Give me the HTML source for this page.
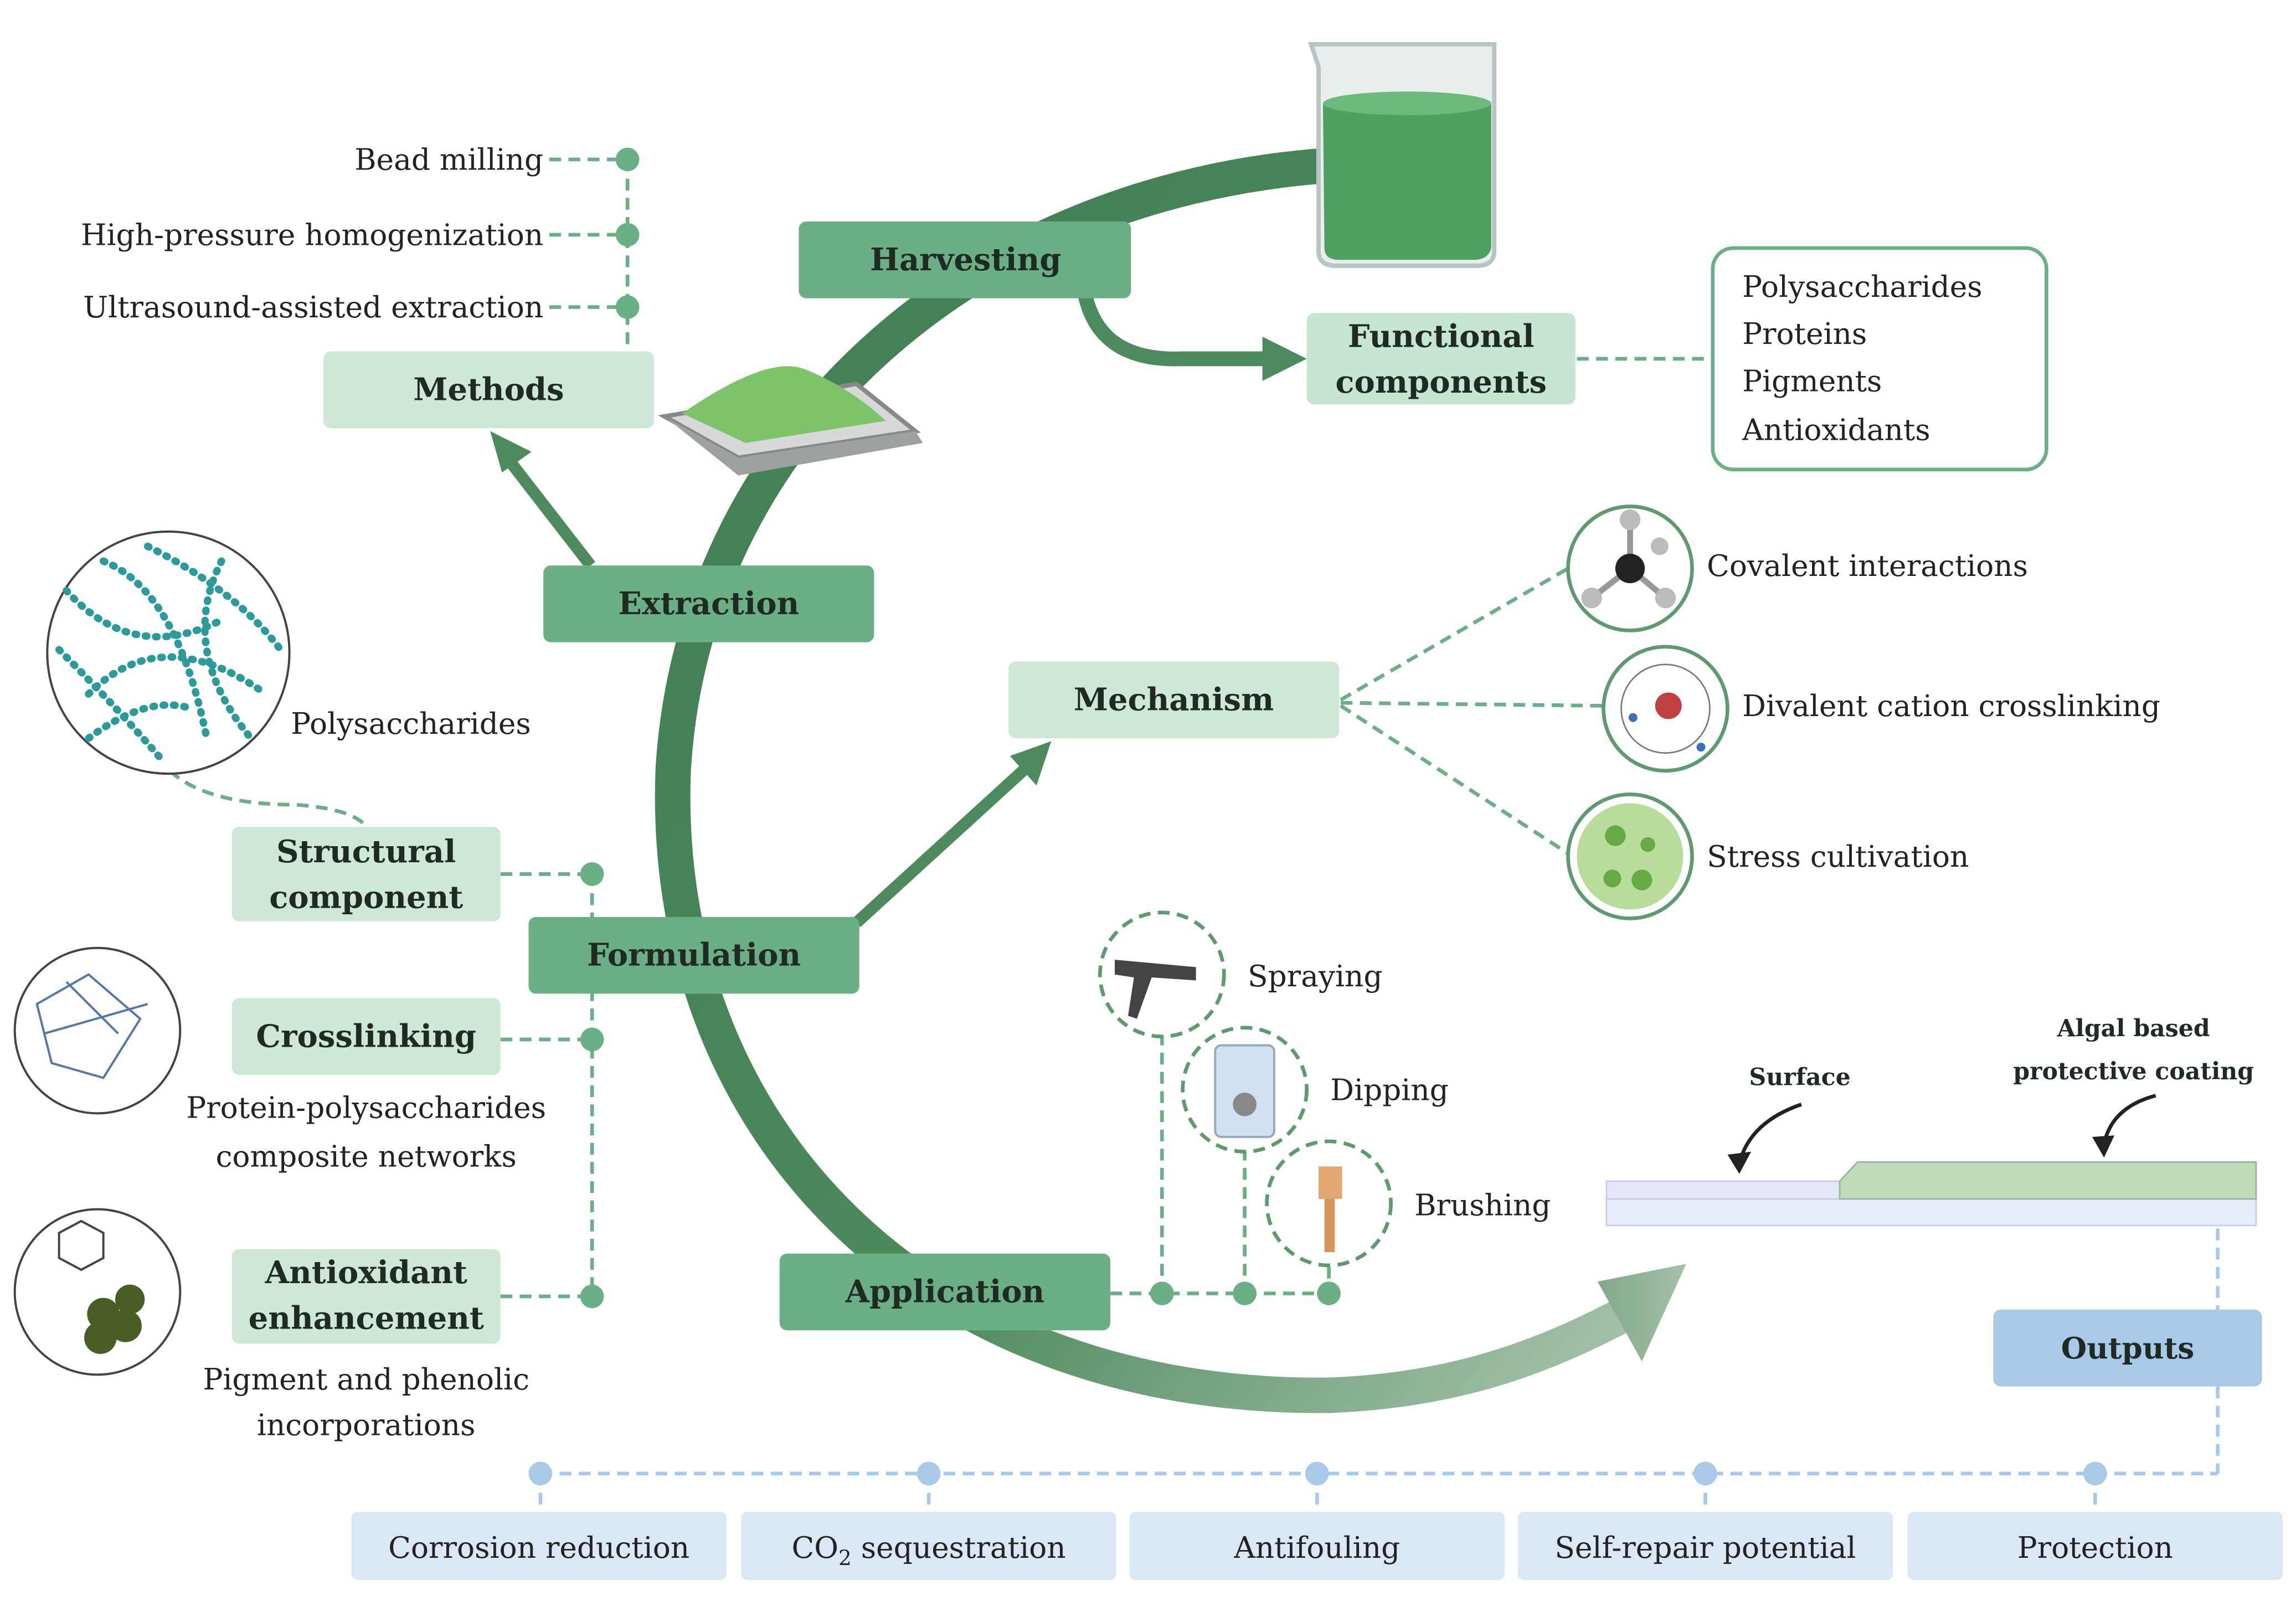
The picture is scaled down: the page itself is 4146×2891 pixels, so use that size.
<!DOCTYPE html>
<html><head><meta charset="utf-8"><style>
html,body{margin:0;padding:0;background:#fff;}
#w{width:1555px;height:1084px;transform:scale(2.6662);transform-origin:0 0;position:relative;}
svg{position:absolute;left:0;top:0;}
text{font-family:"DejaVu Serif","Liberation Serif",serif;}
.b{font-weight:bold;font-size:21px;fill:#1f2a22;}
.t{font-size:20px;fill:#222;}
</style></head><body><div id="w">
<svg width="1555" height="1084" viewBox="0 0 1555 1084">
<defs>
<linearGradient id="g" x1="0" y1="0" x2="1" y2="1">
<stop offset="0" stop-color="#3f7d52"/><stop offset="0.6" stop-color="#4d8a5e"/><stop offset="1" stop-color="#a9c4ad"/>
</linearGradient>
<linearGradient id="g2" x1="0" y1="0" x2="1" y2="0">
<stop offset="0" stop-color="#6f9a78"/><stop offset="1" stop-color="#a7c2ab"/>
</linearGradient>
</defs>
<path d="M 900 112 C 650 130 470 300 456 520 C 446 760 620 948 900 945 C 980 942 1040 922 1100 890" fill="none" stroke="url(#g)" stroke-width="24"/>
<path d="M 1082 868 L 1142 856 L 1112 922 Z" fill="#9fbda5"/>
<path d="M 1082 868 L 1142 856 L 1112 922 Z" fill="url(#g2)" opacity="0.6"/>

<path d="M888 30 L1012 30 L1012 170 Q1012 180 1000 180 L905 180 Q893 180 893 170 L893 45 Z" fill="#e8eeee" stroke="#b9c4c4" stroke-width="3"/>
<path d="M896 70 Q950 60 1010 70 L1010 168 Q1008 176 998 176 L907 176 Q897 176 897 168 Z" fill="#4fa062"/>
<ellipse cx="953" cy="70" rx="57" ry="8" fill="#6cb97d"/>
<path d="M450 282 L500 310 L620 292 L580 260 Z" fill="#d7d9d9" stroke="#888" stroke-width="3"/>
<path d="M462 280 Q520 240 545 250 Q575 262 600 285 L505 300 Z" fill="#7dc36a"/>
<path d="M450 282 L500 322 L625 300 L620 292 L500 310 Z" fill="#9ea1a1"/>

<path d="M735 200 Q745 245 800 243 L860 243" fill="none" stroke="#4d8a5e" stroke-width="10"/>
<path d="M855 228 L885 243 L855 258 Z" fill="#4d8a5e"/>
<line x1="400" y1="383" x2="345" y2="312" stroke="#4d8a5e" stroke-width="8"/>
<path d="M332 292 L360 306 L340 320 Z" fill="#4d8a5e"/>
<line x1="580" y1="625" x2="695" y2="520" stroke="#4d8a5e" stroke-width="8"/>
<path d="M712 502 L702 532 L684 512 Z" fill="#4d8a5e"/>

<g stroke="#6aaf86" stroke-width="2.5" stroke-dasharray="8,5" fill="none">
<line x1="372" y1="108" x2="425" y2="108"/><line x1="372" y1="159" x2="425" y2="159"/><line x1="372" y1="208" x2="425" y2="208"/>
<line x1="425" y1="108" x2="425" y2="238"/>
<line x1="1068" y1="243" x2="1160" y2="243"/>
<line x1="908" y1="474" x2="1062" y2="385"/><line x1="908" y1="476" x2="1086" y2="478"/><line x1="908" y1="478" x2="1062" y2="578"/>
<path d="M115 522 Q140 545 200 545 Q240 548 248 560"/>
<line x1="339" y1="592" x2="401" y2="592"/><line x1="339" y1="704" x2="401" y2="704"/><line x1="339" y1="878" x2="401" y2="878"/>
<line x1="401" y1="592" x2="401" y2="878"/>
<line x1="752" y1="876" x2="900" y2="876"/>
<line x1="787" y1="700" x2="787" y2="876"/><line x1="843" y1="778" x2="843" y2="876"/><line x1="900" y1="858" x2="900" y2="876"/>
</g>
<g stroke="#a9c9e8" stroke-width="2.5" stroke-dasharray="8,5" fill="none">
<line x1="1502" y1="832" x2="1502" y2="887"/><line x1="1502" y1="939" x2="1502" y2="998"/>
<line x1="366" y1="998" x2="1502" y2="998"/>
<line x1="366" y1="998" x2="366" y2="1024"/><line x1="629" y1="998" x2="629" y2="1024"/><line x1="892" y1="998" x2="892" y2="1024"/><line x1="1155" y1="998" x2="1155" y2="1024"/><line x1="1419" y1="998" x2="1419" y2="1024"/>
</g>
<g fill="#6aaf86">
<circle cx="425" cy="108" r="8"/><circle cx="425" cy="159" r="8"/><circle cx="425" cy="208" r="8"/>
<circle cx="401" cy="592" r="8"/><circle cx="401" cy="704" r="8"/><circle cx="401" cy="878" r="8"/>
<circle cx="787" cy="876" r="8"/><circle cx="843" cy="876" r="8"/><circle cx="900" cy="876" r="8"/>
</g>
<g fill="#a9c9e8"><circle cx="366" cy="998" r="8"/><circle cx="629" cy="998" r="8"/><circle cx="892" cy="998" r="8"/><circle cx="1155" cy="998" r="8"/><circle cx="1419" cy="998" r="8"/></g>

<g>
<rect x="541" y="150" width="225" height="52" rx="5" fill="#6aaf86"/>
<rect x="885" y="212" width="182" height="62" rx="5" fill="#c6e5d2"/>
<rect x="219" y="238" width="224" height="52" rx="5" fill="#cde8d6"/>
<rect x="368" y="383" width="224" height="52" rx="5" fill="#6aaf86"/>
<rect x="683" y="448" width="224" height="52" rx="5" fill="#cde8d6"/>
<rect x="157" y="560" width="182" height="64" rx="5" fill="#cde8d6"/>
<rect x="358" y="621" width="224" height="52" rx="5" fill="#6aaf86"/>
<rect x="157" y="676" width="182" height="52" rx="5" fill="#cde8d6"/>
<rect x="157" y="846" width="182" height="64" rx="5" fill="#cde8d6"/>
<rect x="528" y="849" width="224" height="52" rx="5" fill="#6aaf86"/>
<rect x="1350" y="887" width="182" height="52" rx="5" fill="#a9c9e8"/>
<rect x="1160" y="168" width="226" height="150" rx="14" fill="#fff" stroke="#6aaf86" stroke-width="2.5"/>
</g>
<g fill="#dae8f5">
<rect x="238" y="1024" width="254" height="46" rx="4"/><rect x="502" y="1024" width="254" height="46" rx="4"/><rect x="765" y="1024" width="254" height="46" rx="4"/><rect x="1028" y="1024" width="254" height="46" rx="4"/><rect x="1292" y="1024" width="254" height="46" rx="4"/>
</g>

<g stroke="#5d9a6e" stroke-width="2.5" fill="#fff">
<circle cx="1104" cy="385" r="42"/><circle cx="1128" cy="480" r="42"/><circle cx="1104" cy="580" r="42"/>
<circle cx="787" cy="660" r="42" stroke-dasharray="8,5"/><circle cx="843" cy="738" r="42" stroke-dasharray="8,5"/><circle cx="900" cy="815" r="42" stroke-dasharray="8,5"/>
</g>
<circle cx="114" cy="442" r="82" fill="#fff" stroke="#444" stroke-width="1.5"/>
<g stroke="#2b9a9a" stroke-width="5" stroke-dasharray="1,6" stroke-linecap="round" fill="none">
<path d="M45 400 Q90 450 150 420 M60 470 Q110 420 180 470 M70 380 Q120 400 140 500 M40 440 Q80 480 110 515 M100 370 Q160 400 190 440 M150 380 Q120 440 170 500 M60 500 Q100 470 130 480"/>
</g>
<circle cx="66" cy="698" r="56" fill="#fff" stroke="#444" stroke-width="1.5"/>
<path d="M25 680 L60 660 L95 690 L70 730 L35 720 Z M45 665 L80 700 M30 700 L100 680" stroke="#5577aa" stroke-width="1.5" fill="none"/>
<circle cx="66" cy="875" r="56" fill="#fff" stroke="#444" stroke-width="1.5"/>
<polygon points="40,835 55,827 70,835 70,852 55,860 40,852" fill="none" stroke="#444" stroke-width="1.5"/>
<g fill="#4a5d25"><circle cx="70" cy="890" r="11"/><circle cx="85" cy="898" r="11"/><circle cx="68" cy="906" r="11"/><circle cx="88" cy="880" r="10"/></g>
<line x1="1104" y1="385" x2="1104" y2="352" stroke="#999" stroke-width="4"/><line x1="1104" y1="385" x2="1078" y2="405" stroke="#999" stroke-width="4"/><line x1="1104" y1="385" x2="1128" y2="405" stroke="#999" stroke-width="4"/>
<circle cx="1104" cy="385" r="10" fill="#222"/><circle cx="1104" cy="352" r="7" fill="#bbb"/><circle cx="1078" cy="405" r="7" fill="#bbb"/><circle cx="1128" cy="405" r="7" fill="#bbb"/><circle cx="1124" cy="370" r="6" fill="#bbb"/>
<circle cx="1128" cy="480" r="30" fill="none" stroke="#777" stroke-width="1"/><circle cx="1130" cy="478" r="9" fill="#c04040"/><circle cx="1106" cy="486" r="3" fill="#3a6fc0"/><circle cx="1152" cy="506" r="3" fill="#3a6fc0"/>
<circle cx="1104" cy="580" r="36" fill="#b8dc9c"/><g fill="#66aa44"><circle cx="1094" cy="566" r="7"/><circle cx="1112" cy="596" r="7"/><circle cx="1092" cy="595" r="6"/><circle cx="1116" cy="572" r="5"/></g>
<path d="M755 650 L810 655 L810 664 L780 662 L770 690 L764 688 L768 662 L755 660 Z" fill="#444"/>
<rect x="823" y="708" width="40" height="62" rx="4" fill="#cfe0f0" stroke="#9ab" stroke-width="1.5"/><circle cx="843" cy="748" r="8" fill="#888"/>
<rect x="893" y="790" width="16" height="22" fill="#e0a870"/><rect x="897" y="812" width="7" height="36" fill="#d4945a"/>
<rect x="1088" y="812" width="440" height="18" fill="#e6ecf8" stroke="#c4cce8"/>
<rect x="1088" y="800" width="440" height="12" fill="#e4e8f8" stroke="#c4cce8"/>
<path d="M1246 800 L1258 787 L1528 787 L1528 812 L1246 812 Z" fill="#bedbb8" stroke="#90b890"/>
<path d="M1220 748 Q1185 760 1178 788" fill="none" stroke="#222" stroke-width="2.5"/><path d="M1170 782 L1178 795 L1186 780 Z" fill="#222"/>
<path d="M1460 742 Q1430 750 1425 775" fill="none" stroke="#222" stroke-width="2.5"/><path d="M1417 770 L1425 784 L1432 769 Z" fill="#222"/>

<g class="b" text-anchor="middle">
<text x="654" y="183">Harvesting</text>
<text x="976" y="235">Functional</text><text x="976" y="266">components</text>
<text x="331" y="271">Methods</text>
<text x="480" y="416">Extraction</text>
<text x="795" y="481">Mechanism</text>
<text x="248" y="584">Structural</text><text x="248" y="615">component</text>
<text x="470" y="654">Formulation</text>
<text x="248" y="709">Crosslinking</text>
<text x="248" y="869">Antioxidant</text><text x="248" y="900">enhancement</text>
<text x="640" y="882">Application</text>
<text x="1441" y="920" font-size="20">Outputs</text>
<text x="1219" y="735" font-size="16">Surface</text>
<text x="1445" y="702" font-size="16">Algal based</text><text x="1445" y="731" font-size="16">protective coating</text>
</g>
<g class="t" text-anchor="end">
<text x="368" y="115">Bead milling</text><text x="368" y="166">High-pressure homogenization</text><text x="368" y="215">Ultrasound-assisted extraction</text>
</g>
<g class="t">
<text x="1180" y="201">Polysaccharides</text><text x="1180" y="233">Proteins</text><text x="1180" y="265">Pigments</text><text x="1180" y="298">Antioxidants</text>
<text x="1156" y="390">Covalent interactions</text><text x="1180" y="485">Divalent cation crosslinking</text><text x="1156" y="587">Stress cultivation</text>
<text x="197" y="497">Polysaccharides</text>
<text x="845" y="668">Spraying</text><text x="901" y="745">Dipping</text><text x="958" y="823">Brushing</text>
</g>
<g class="t" text-anchor="middle">
<text x="248" y="757">Protein-polysaccharides</text><text x="248" y="790">composite networks</text>
<text x="248" y="941">Pigment and phenolic</text><text x="248" y="972">incorporations</text>
<text x="365" y="1055">Corrosion reduction</text>
<text x="629" y="1055">CO<tspan font-size="14" dy="5">2</tspan><tspan dy="-5"> sequestration</tspan></text>
<text x="892" y="1055">Antifouling</text><text x="1155" y="1055">Self-repair potential</text><text x="1419" y="1055">Protection</text>
</g>
</svg></div></body></html>
